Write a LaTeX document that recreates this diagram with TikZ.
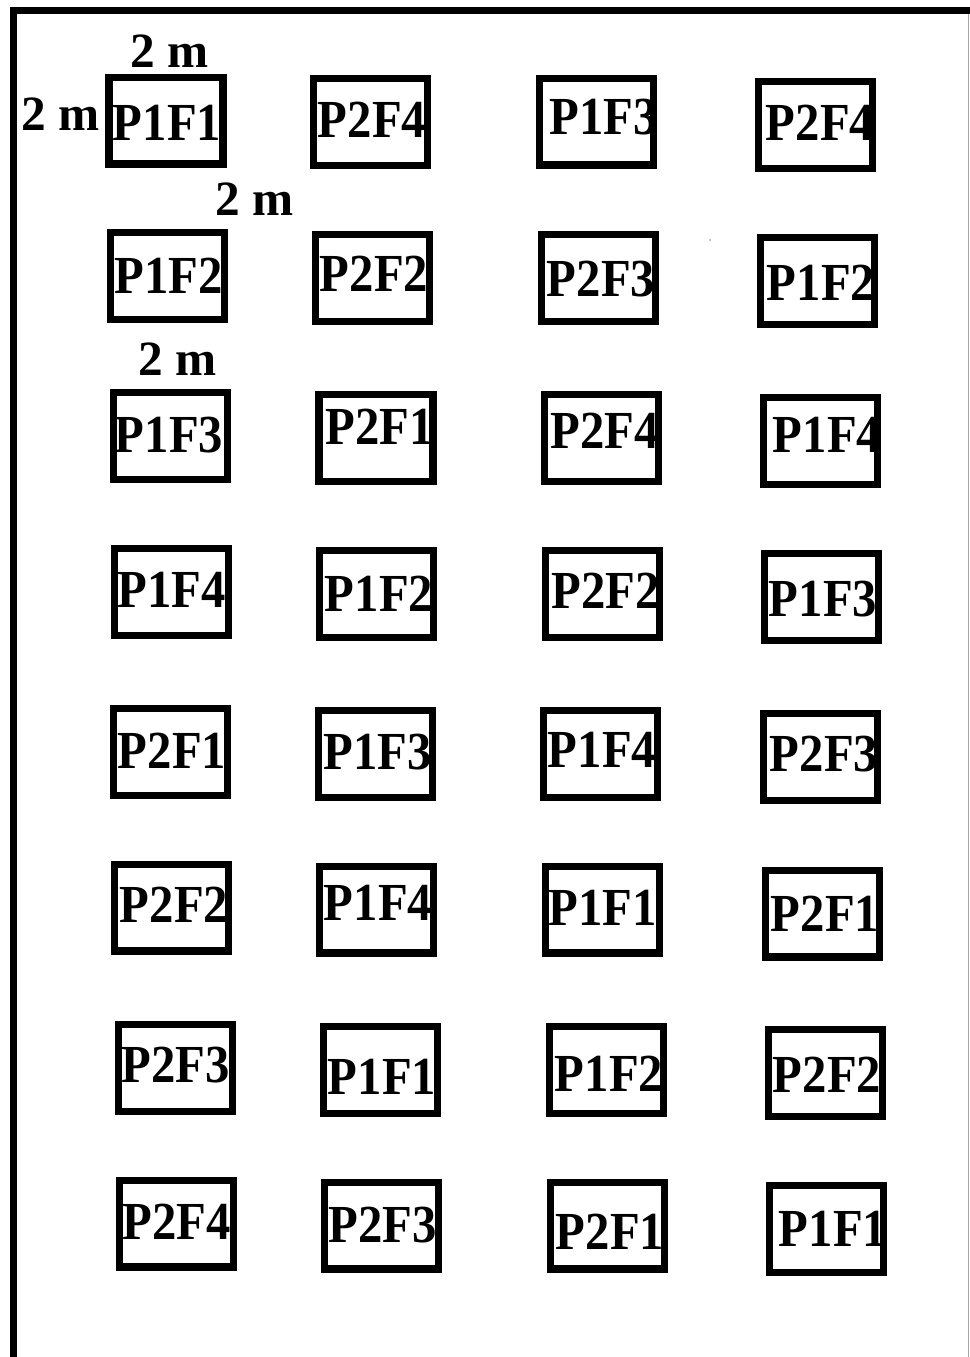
\documentclass[tikz,border=0pt]{standalone}
\usepackage{fontspec}
\setmainfont{Liberation Serif}
\usetikzlibrary{calc}
\tikzset{
  px/.style={x=0.75pt,y=-0.75pt},
  cellbox/.style={draw=black,line width=5.5pt,minimum width=85.3pt,minimum height=65pt,inner sep=0pt,fill=white},
  celltext/.style={inner sep=0pt,font=\fontsize{36.5}{40}\selectfont\bfseries},
  dimlabel/.style={inner sep=0pt,anchor=base,font=\fontsize{37}{40}\selectfont\bfseries},
  frame/.style={line width=5.25pt,draw=black},
}
\newcommand{\plotcell}[6]{%
  \node[cellbox] (#1) at (#2,#3) {};
  \node[celltext] (#1t) at ($(#1.center)+(#5,#6)$) {\scalebox{1}[1.1]{#4}};
}
\begin{document}
\begin{tikzpicture}[px]
\useasboundingbox (0,0) rectangle (970,1357);
\fill[white] (0,0) rectangle (970,1357);
% frame
\coordinate (ftl) at (10,10.5);
\coordinate (ftr) at (970,10.5);
\coordinate (fl1) at (13.5,7);
\coordinate (fl2) at (13.5,1357);
\coordinate (fr1) at (968.5,14);
\coordinate (fr2) at (968.5,1357);
\draw[frame] (ftl) -- (ftr);
\draw[frame] (fl1) -- (fl2);
\draw[gray!70,line width=0.9pt] (fr1) -- (fr2);
% row 1
\plotcell{a1}{166}{120.5}{P1F1}{1}{2.5}
\plotcell{a2}{370.5}{122}{P2F4}{1.5}{-2}
\plotcell{a3}{596.5}{121.5}{P1F3}{7}{-4}
\plotcell{a4}{815.5}{125}{P2F4}{4.5}{-2}
% row 2
\plotcell{b1}{167.5}{276}{P1F2}{1}{0}
\plotcell{b2}{372.5}{278}{P2F2}{1.5}{-4.5}
\plotcell{b3}{598.5}{278}{P2F3}{2.5}{1.5}
\plotcell{b4}{817.5}{281}{P1F2}{3.5}{2}
% row 3
\plotcell{c1}{170.5}{436}{P1F3}{-1.5}{-1}
\plotcell{c2}{376}{438}{P2F1}{3.5}{-11.5}
\plotcell{c3}{601.5}{438}{P2F4}{3}{-7}
\plotcell{c4}{820.5}{441}{P1F4}{6.5}{-6.5}
% row 4
\plotcell{d1}{171.5}{592}{P1F4}{0}{-2.5}
\plotcell{d2}{376.5}{594}{P1F2}{2.5}{0}
\plotcell{d3}{602.5}{594}{P2F2}{3}{-3.5}
\plotcell{d4}{821.5}{597}{P1F3}{1.5}{2.5}
% row 5
\plotcell{e1}{170.5}{752}{P2F1}{1.5}{-1.5}
\plotcell{e2}{375.5}{754}{P1F3}{2}{-1.5}
\plotcell{e3}{600.5}{754}{P1F4}{1.5}{-4.5}
\plotcell{e4}{820.5}{757}{P2F3}{3.5}{-2.5}
% row 6
\plotcell{f1}{171.5}{907.5}{P2F2}{2.5}{-2.5}
\plotcell{f2}{376.5}{909.5}{P1F4}{1.5}{-7}
\plotcell{f3}{602.5}{909.5}{P1F1}{0}{-1.5}
\plotcell{f4}{822.5}{913.5}{P2F1}{2.5}{0}
% row 7
\plotcell{g1}{175.5}{1068}{P2F3}{0}{-3}
\plotcell{g2}{380.5}{1070}{P1F1}{1.5}{7}
\plotcell{g3}{606.5}{1070}{P1F2}{2.5}{4}
\plotcell{g4}{825.5}{1073}{P2F2}{1.5}{1.5}
% row 8
\plotcell{h1}{176.5}{1223.5}{P2F4}{0}{-2}
\plotcell{h2}{381.5}{1225.5}{P2F3}{1}{0}
\plotcell{h3}{607.5}{1225.5}{P2F1}{2.5}{6}
\plotcell{h4}{826.5}{1229}{P1F1}{6.5}{0}
% dimension labels
\node[dimlabel] (dtop) at (170,67) {2 m};
\node[dimlabel] (dleft) at (61,130) {2 m};
\node[dimlabel] (dmid) at (255,215) {2 m};
\node[dimlabel] (dthird) at (178,375) {2 m};
\fill (710,240) circle (0.6);
\end{tikzpicture}
\end{document}
